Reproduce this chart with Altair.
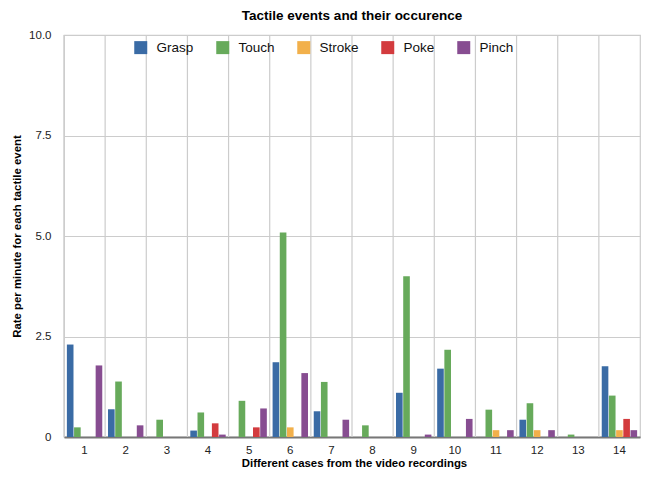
import altair as alt
import pandas as pd

cases = list(range(1, 15))
events = ["Grasp", "Touch", "Stroke", "Poke", "Pinch"]
grasp = [2.30, 0.69, 0, 0.16, 0, 1.86, 0.64, 0, 1.10, 1.70, 0, 0.43, 0, 1.76]
touch = [0.24, 1.38, 0.43, 0.61, 0.90, 5.09, 1.37, 0.29, 4.00, 2.17, 0.68, 0.84, 0.06, 1.03]
stroke = [0, 0, 0, 0, 0, 0.24, 0, 0, 0, 0, 0.17, 0.17, 0, 0.17]
poke = [0, 0, 0, 0.34, 0.24, 0, 0, 0, 0, 0, 0, 0, 0, 0.45]
pinch = [1.78, 0.29, 0, 0.06, 0.71, 1.59, 0.43, 0, 0.06, 0.45, 0.17, 0.17, 0, 0.17]
colors = ["#3A6BA5", "#67AA5B", "#F2B04B", "#D33B3E", "#874D91"]
y_ticks = [0, 2.5, 5, 7.5, 10]

series = {"Grasp": grasp, "Touch": touch, "Stroke": stroke, "Poke": poke, "Pinch": pinch}
rows = []
for ev in events:
    for c, v in zip(cases, series[ev]):
        rows.append({"case": c, "event": ev, "value": v})
df = pd.DataFrame(rows)
grid_df = pd.DataFrame({"case": cases})

FONT = "Liberation Sans"

x_scale = alt.Scale(domain=cases, paddingInner=0, paddingOuter=0)

x_axis = alt.Axis(
    title="Different cases from the video recordings",
    labelAngle=0,
    grid=False,
    ticks=False,
    tickSize=0,
    domainColor="#777777",
    domainWidth=2,
    labelPadding=7,
    labelFontSize=11.5,
    labelColor="#222222",
    titleFontSize=11.4,
    titleFontWeight="bold",
    titleColor="#000000",
    titleX=290,
    titleY=29,
    titleBaseline="alphabetic",
)

y_enc = alt.Y(
    "value:Q",
    scale=alt.Scale(domain=[0, 10], nice=False),
    axis=alt.Axis(
        title="Rate per minute for each tactile event",
        values=y_ticks,
        labelExpr="datum.value == 0 ? '0' : format(datum.value, '.1f')",
        grid=True,
        gridColor="#cccccc",
        gridWidth=1.2,
        domain=False,
        ticks=False,
        tickSize=0,
        labelPadding=13,
        labelFontSize=11.5,
        labelColor="#222222",
        titleFontSize=11.4,
        titleFontWeight="bold",
        titleColor="#000000",
        titleX=-47,
        titleY=201,
        titleAlign="center",
        titleBaseline="middle",
    ),
)

vgrid = alt.Chart(grid_df).mark_rule(color="#cccccc", strokeWidth=1.2).encode(
    x=alt.X("case:O", scale=x_scale, bandPosition=0, axis=x_axis),
    y=alt.value(0),
    y2=alt.value(402),
)

bars = alt.Chart(df).mark_bar().encode(
    x=alt.X("case:O", scale=x_scale, axis=x_axis),
    xOffset=alt.XOffset("event:N", sort=events, scale=alt.Scale(domain=events, paddingInner=0.08, paddingOuter=0.4)),
    y=y_enc,
    color=alt.Color(
        "event:N",
        sort=events,
        scale=alt.Scale(domain=events, range=colors),
        legend=alt.Legend(
            title=None,
            orient="none",
            legendX=70,
            legendY=5.5,
            direction="horizontal",
            symbolType="square",
            symbolSize=169,
            symbolStrokeWidth=0,
            labelFontSize=13.5,
            labelColor="#111111",
            labelOffset=9,
            columnPadding=22,
            padding=0,
        ),
    ),
)

chart = (
    alt.layer(vgrid, bars)
    .properties(
        width=576,
        height=402,
        padding={"left": 56, "top": 27, "right": 8, "bottom": 32},
        autosize=alt.AutoSizeParams(type="none"),
        title=alt.Title(
            "Tactile events and their occurence",
            fontSize=13.5,
            fontWeight="bold",
            font=FONT,
            anchor="middle",
            offset=7,
            color="#000000",
        ),
    )
    .configure(font=FONT)
    .configure_view(stroke="#cccccc", strokeWidth=1.2)
)

chart.save("out.html", embed_options={"renderer": "svg", "actions": False})
